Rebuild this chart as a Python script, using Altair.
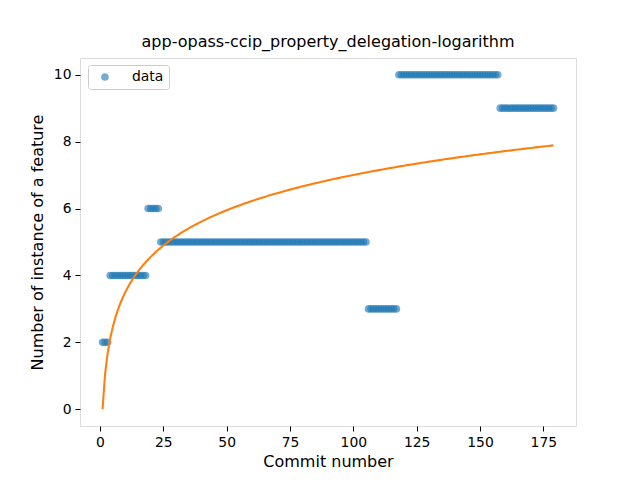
import altair as alt
import pandas as pd

commits = list(range(1, 180))
values = [
    2, 2, 2,
    4, 4, 4, 4, 4, 4, 4, 4, 4, 4, 4, 4, 4, 4, 4,
    6, 6, 6, 6, 6,
    5, 5, 5, 5, 5, 5, 5, 5, 5, 5, 5, 5, 5, 5, 5, 5, 5, 5, 5, 5,
    5, 5, 5, 5, 5, 5, 5, 5, 5, 5, 5, 5, 5, 5, 5, 5, 5, 5, 5, 5,
    5, 5, 5, 5, 5, 5, 5, 5, 5, 5, 5, 5, 5, 5, 5, 5, 5, 5, 5, 5,
    5, 5, 5, 5, 5, 5, 5, 5, 5, 5, 5, 5, 5, 5, 5, 5, 5, 5, 5, 5,
    5, 5,
    3, 3, 3, 3, 3, 3, 3, 3, 3, 3, 3, 3,
    10, 10, 10, 10, 10, 10, 10, 10, 10, 10, 10, 10, 10, 10, 10, 10, 10, 10, 10, 10,
    10, 10, 10, 10, 10, 10, 10, 10, 10, 10, 10, 10, 10, 10, 10, 10, 10, 10, 10, 10,
    9, 9, 9, 9, 9, 9, 9, 9, 9, 9, 9, 9, 9, 9, 9, 9, 9, 9, 9, 9, 9, 9,
]
x_ticks = [0, 25, 50, 75, 100, 125, 150, 175]
y_ticks = [0, 2, 4, 6, 8, 10]
title_text = "app-opass-ccip_property_delegation-logarithm"

df = pd.DataFrame({"commit": commits[:len(values)], "value": values[:len(commits)]})
df["series"] = "data"

FONT = "DejaVu Sans"

x_enc = alt.X(
    "commit:Q",
    scale=alt.Scale(domain=[-7.9, 187.9], nice=False, zero=False),
    axis=alt.Axis(values=x_ticks, title="Commit number", grid=False,
                  tickSize=5, labelPadding=4, titlePadding=5,
                  labelFontSize=13.9, titleFontSize=16, labelFont=FONT,
                  titleFont=FONT, titleFontWeight="normal", labelColor="black",
                  titleColor="black", domain=False, tickColor="black",
                  labelFlush=False),
)
y_enc = alt.Y(
    "value:Q",
    scale=alt.Scale(domain=[-0.5, 10.5], nice=False, zero=False),
    axis=alt.Axis(values=y_ticks, title="Number of instance of a feature", grid=False,
                  tickSize=5, labelPadding=4, titlePadding=8,
                  labelFontSize=13.9, titleFontSize=16, labelFont=FONT,
                  titleFont=FONT, titleFontWeight="normal", labelColor="black",
                  titleColor="black", domain=False, tickColor="black",
                  labelFlush=False),
)

points = alt.Chart(df).mark_circle(size=58, opacity=0.62).encode(
    x=x_enc,
    y=y_enc,
    color=alt.Color(
        "series:N",
        scale=alt.Scale(domain=["data"], range=["#1f77b4"]),
        legend=alt.Legend(
            title=None, orient="none", legendX=8, legendY=7,
            strokeColor="#cccccc", fillColor="white", cornerRadius=3,
            padding=5, symbolType="circle", symbolSize=58, symbolOpacity=0.62,
            symbolOffset=5, labelOffset=20, labelFontSize=13.9, labelFont=FONT,
            labelColor="black",
        ),
    ),
)

# least-squares fit y = a * ln(x) (through the origin), computed by Vega from the data
fit = (
    alt.Chart(df)
    .transform_calculate(lx="log(datum.commit)")
    .transform_calculate(lxy="datum.lx * datum.value", lx2="datum.lx * datum.lx")
    .transform_joinaggregate(sxy="sum(lxy)", sxx="sum(lx2)")
    .transform_calculate(fit="datum.sxy / datum.sxx * datum.lx")
    .mark_line(color="#ff7f0e", strokeWidth=2.08)
    .encode(x="commit:Q", y="fit:Q")
)

chart = (
    alt.layer(points, fit)
    .properties(
        width=496,
        height=368,
        title=alt.TitleParams(title_text, fontSize=16, font=FONT,
                              fontWeight="normal", color="black", offset=8),
        autosize=alt.AutoSizeParams(type="none"),
        padding={"left": 80, "top": 58, "right": 64, "bottom": 54},
    )
    .configure_view(stroke="black", strokeWidth=1.1)
    .configure(background="white")
)

chart.save("out.html", embed_options={"renderer": "svg", "actions": False})
